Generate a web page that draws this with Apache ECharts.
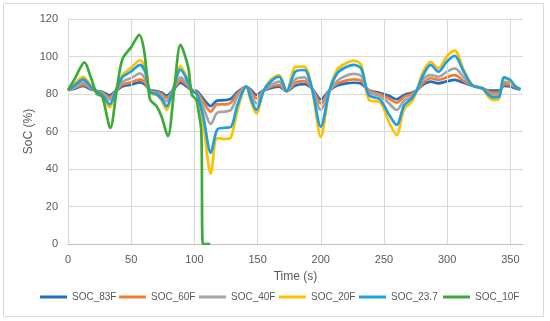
<!DOCTYPE html>
<html>
<head>
<meta charset="utf-8">
<script src="https://cdn.jsdelivr.net/npm/echarts@6/dist/echarts.min.js"></script>
<style>html,body{margin:0;padding:0;background:#fff}#c{width:550px;height:321px}</style>
</head>
<body>
<div id="c"></div>
<script>
var seriesNames = ['SOC_83F','SOC_60F','SOC_40F','SOC_20F','SOC_23.7','SOC_10F'];
var xTicks = [0,50,100,150,200,250,300,350];
var yTicks = [0,20,40,60,80,100,120];

var T = [0,6,12,18,23,27,33,38,43,50,57,61,65,70,74,78,83,89,94,98,102,107,113,118,124,129,134,141,145,149,155,161,167,173,180,187,193,200,207,213,219,226,232,238,247,254,260,266,272,276,281,287,293,300,306,313,320,328,332,336,341,345,350,354,358];
var soc83 = [82,83,84.3,82.5,81.5,81.2,79.3,81.8,84,85, 86.2,85,82,81.5,80.8,79.1,82,85.9,84,82, 81.5,77.5,73.6,76.5,76.7,77.5,81,84,82,79.5, 82,83.3,83.9,81.5,84.5,85.3,83,77.2,82,84.5, 85.5,86,85.5,82,80.5,79,77.2,79.5,80.7,82, 85,86.6,85.7,86.8,87.5,86,84.5,83,82,81.8, 81.8,84.3,84,83,82.5];
var soc60 = [82,83.5,85,83,81.3,80.8,78.2,81.8,85,86.2, 87.8,86,81.5,81,80,77.9,82,87.3,85,82, 81,76,70.6,74.5,74.5,75.5,80,84,81,77.7, 82,84,84.8,81.5,86,86.9,83,75,82,85.5, 87,87.8,87,81.8,79.8,77.5,75.4,78.5,80,82, 86,88.4,87.5,89,90.1,87,84.5,83,81.5,80.7, 80.8,85.3,85,83.5,82.5];
var soc40 = [82,84,86.2,83.5,81.2,80.3,77,81.9,86.5,88.5, 91,88,81.5,80.5,79,76.1,82,88.9,86,82, 80.5,73,64,70,70.6,71.5,78.5,84,79.5,75, 82,85,86.6,81.5,88,88.9,83,71.5,82,87, 89.5,90.7,89.5,81,78.8,75,71.5,76.5,78.6,82, 88,90.1,89.2,92,93.7,89,84.5,83,80.5,79.5, 79.8,86.5,86,84,82.5];
var soc20 = [82,86,89.2,84.5,80.8,79,72.9,82,90,94, 98,94,80.5,79.5,76.5,71.6,82,94.8,89,82, 79.5,64,37.7,56.5,56,57,71,84,75.5,69.7, 82,88,90.1,81.5,94.5,94.6,83,57.2,82,93, 96,97.8,95.5,77,75.5,65,58.1,72,75.9,82, 91.9,97.2,93.7,100.3,103.1,93,84.8,83,79,76.8, 77.5,88.4,87,84,82.5];
var soc237 = [82,85,87.8,84,81,79.5,74.5,82,88.9,92, 95.5,92,81,80,77.5,73.4,82,93,88,82, 80,68,48.7,61,62,62.5,74,84,77,71.5, 82,87,89.2,81.5,92,92.8,83,62.6,82,91, 94,95.5,93.5,79.5,77,69,63.5,74,77.7,82, 90,95.5,91.9,97.5,100.3,92,84.5,83,80,78.2, 78.5,88.9,87.5,84,82.5];
var T10 = [0,6,13,18,23,27,33.5,38.5,43,50,56.5,60,62.5,65,70,74,79,84,89,95,98,101.5,103,105.5,106.8,112.5];
var soc10 = [82,89,96.9,89,80,78.8,61.9,82,98.5,105,111.5,104,90,77,73.6,68,57.5,82,106.2,94.6,79.5,77,72,60,0,0];

var colors = ['#1F6FC4','#F47C30','#A5A5A5','#FFC000','#1E9FDF','#3DAA39'];
var legendLefts = [40,119,199,279,359,443];

function pairs(t, v){ return t.map(function(x,i){ return [x, v[i]]; }); }
var seriesData = [pairs(T,soc83), pairs(T,soc60), pairs(T,soc40), pairs(T,soc20), pairs(T,soc237), pairs(T10,soc10)];

var series = seriesNames.map(function(n,i){
  return {
    name: n, type: 'line', data: seriesData[i], showSymbol: false, symbol: 'none',
    smooth: 0.3,
    lineStyle: {width: 2.7, color: colors[i]}, itemStyle: {color: colors[i]}, z: 2 + i
  };
});
series.push({
  type: 'line', data: [], silent: true, z: 1,
  markLine: {
    silent: true, symbol: 'none', label: {show: false},
    lineStyle: {color: '#d9d9d9', width: 1, type: 'solid'},
    data: xTicks.map(function(v){ return {xAxis: v}; })
  }
});

var legends = seriesNames.map(function(n,i){
  return {
    data: [n], left: legendLefts[i], top: 292, icon: 'rect', itemWidth: 27, itemHeight: 3,
    textStyle: {color: '#595959', fontSize: 10, fontFamily: 'Liberation Sans'}, padding: 0
  };
});

var chart = echarts.init(document.getElementById('c'), null, {renderer: 'canvas'});
chart.setOption({
  animation: false,
  backgroundColor: '#fff',
  color: colors,
  graphic: [{type: 'rect', shape: {x: 3.5, y: 3.5, width: 540, height: 313}, style: {fill: 'none', stroke: '#d9d9d9', lineWidth: 1}, z: -1}],
  grid: {left: 68, right: 27, top: 19, bottom: 77, containLabel: false},
  xAxis: {
    type: 'value', min: 0, max: 360, interval: 50,
    name: 'Time (s)', nameLocation: 'middle', nameGap: 27, nameMoveOverlap: false,
    nameTextStyle: {color: '#595959', fontSize: 12, fontFamily: 'Liberation Sans'},
    axisLine: {show: true, lineStyle: {color: '#bfbfbf'}},
    axisTick: {show: false},
    splitLine: {show: false},
    axisLabel: {color: '#595959', fontSize: 11, fontFamily: 'Liberation Sans', showMaxLabel: false, margin: 10}
  },
  yAxis: {
    type: 'value', min: 0, max: 120, interval: 20,
    name: 'SoC (%)', nameLocation: 'middle', nameGap: 33, nameMoveOverlap: false,
    nameTextStyle: {color: '#595959', fontSize: 12, fontFamily: 'Liberation Sans'},
    axisLine: {show: false}, axisTick: {show: false},
    splitLine: {show: true, lineStyle: {color: '#d9d9d9', width: 1}},
    axisLabel: {color: '#595959', fontSize: 11, fontFamily: 'Liberation Sans', margin: 10}
  },
  legend: legends,
  series: series
});
</script>
</body>
</html>
